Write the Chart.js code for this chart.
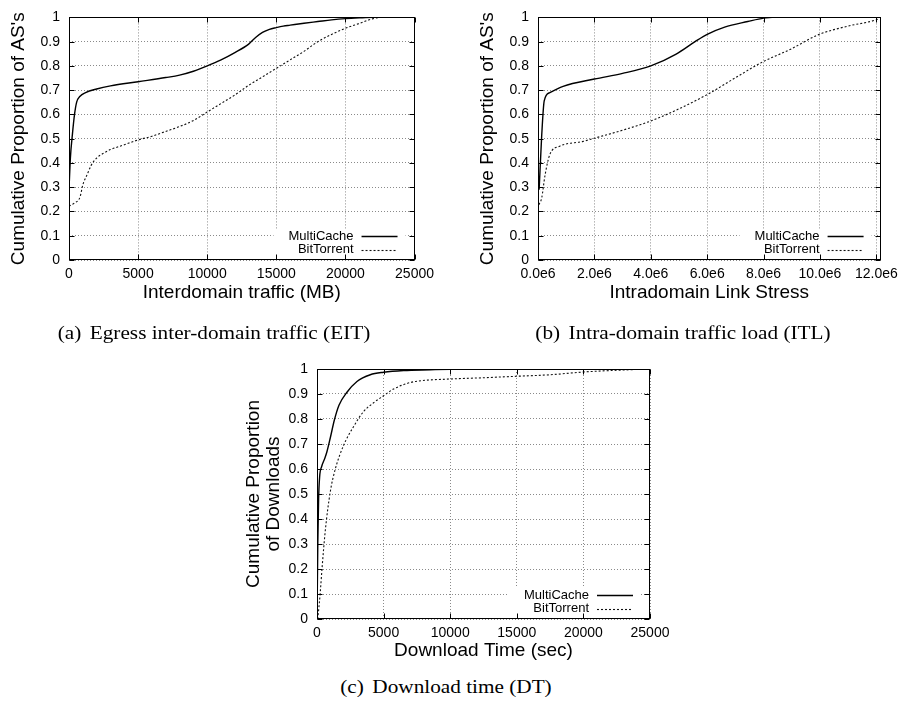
<!DOCTYPE html>
<html>
<head>
<meta charset="utf-8">
<title>MultiCache vs BitTorrent CDFs</title>
<script src="https://cdn.jsdelivr.net/npm/chart.js@4.4.1/dist/chart.umd.min.js"></script>
<style>
  body { margin: 0; background: #fff; width: 904px; height: 702px; position: relative; overflow: hidden; }
  canvas { position: absolute; }
  .cap {
    position: absolute; width: 400px; text-align: center; white-space: nowrap;
    font-family: "Liberation Serif", "DejaVu Serif", serif; font-size: 18px; line-height: 22px;
    color: #000; transform: scaleX(1.18);
  }
  .cap .lbl { margin-right: 0.4em; }
</style>
</head>
<body>
<canvas id="eit" width="440" height="305" style="left:0;top:0"></canvas>
<canvas id="itl" width="435" height="305" style="left:469px;top:0"></canvas>
<canvas id="dt" width="450" height="322" style="left:226px;top:340px"></canvas>
<div class="cap" style="left:14px;top:322px"><span class="lbl">(a)</span>Egress inter-domain traffic (EIT)</div>
<div class="cap" style="left:483px;top:322px"><span class="lbl">(b)</span>Intra-domain traffic load (ITL)</div>
<div class="cap" style="left:246px;top:676px"><span class="lbl">(c)</span>Download time (DT)</div>
<script>
// CDF of egress inter-domain traffic per AS (MB)
const eitMultiX = [0, 100, 250, 400, 550, 800, 1200, 2000, 3000, 5000, 7000, 8000, 9000, 10000, 11000, 12000, 13000, 13500, 14000, 14500, 15000, 15500, 16000, 17000, 18000, 19000, 20000, 21000, 22000, 23000];
const eitMultiY = [0.29, 0.42, 0.52, 0.6, 0.65, 0.675, 0.69, 0.705, 0.718, 0.735, 0.752, 0.762, 0.778, 0.8, 0.825, 0.855, 0.89, 0.917, 0.938, 0.951, 0.958, 0.964, 0.968, 0.976, 0.983, 0.99, 0.995, 0.998, 1, 1];
const eitBitX = [0, 400, 800, 1000, 1300, 1600, 2000, 2500, 3000, 4000, 5000, 6000, 7000, 8000, 9000, 10000, 11000, 12000, 13000, 14000, 15000, 16000, 17000, 18000, 19000, 20000, 21000, 22000, 22500];
const eitBitY = [0.222, 0.235, 0.26, 0.31, 0.35, 0.39, 0.42, 0.44, 0.455, 0.475, 0.495, 0.51, 0.53, 0.55, 0.575, 0.61, 0.645, 0.68, 0.72, 0.755, 0.79, 0.825, 0.86, 0.9, 0.93, 0.955, 0.975, 0.995, 1];

// CDF of intra-domain link stress per AS
const itlMultiX = [0.04e6, 0.13e6, 0.22e6, 0.42e6, 0.89e6, 2e6, 3e6, 4e6, 4.9e6, 5.57e6, 6e6, 6.62e6, 7.44e6, 8e6, 8.3e6];
const itlMultiY = [0.29, 0.51, 0.656, 0.69, 0.716, 0.746, 0.769, 0.8, 0.849, 0.9, 0.93, 0.96, 0.983, 0.997, 1];
const itlBitX = [0.03e6, 0.13e6, 0.25e6, 0.42e6, 0.77e6, 1.6e6, 2e6, 3e6, 4e6, 4.98e6, 6e6, 6.97e6, 7.96e6, 8.96e6, 9.95e6, 10.95e6, 12e6, 12.1e6];
const itlBitY = [0.228, 0.255, 0.35, 0.435, 0.469, 0.489, 0.502, 0.535, 0.573, 0.622, 0.682, 0.749, 0.816, 0.869, 0.929, 0.963, 0.99, 0.995];

// CDF of download time (sec)
const dtMultiX = [0, 60, 120, 200, 350, 600, 750, 1000, 1300, 1650, 2250, 3000, 4000, 5000, 6500, 8500, 10000, 12000];
const dtMultiY = [0, 0.3, 0.48, 0.57, 0.61, 0.645, 0.67, 0.725, 0.795, 0.855, 0.907, 0.95, 0.977, 0.987, 0.994, 0.997, 0.999, 1];
const dtBitX = [50, 150, 250, 375, 625, 1000, 1375, 2000, 2750, 3500, 4250, 5000, 5750, 6750, 7500, 10000, 12500, 15000, 17500, 20000, 22500, 25000];
const dtBitY = [0, 0.05, 0.11, 0.2, 0.355, 0.51, 0.6, 0.695, 0.77, 0.83, 0.865, 0.893, 0.92, 0.942, 0.951, 0.96, 0.965, 0.971, 0.977, 0.988, 0.995, 1];

// tick positions
const cdfTicks = [0, 0.1, 0.2, 0.3, 0.4, 0.5, 0.6, 0.7, 0.8, 0.9, 1];
const mbTicks = [0, 5000, 10000, 15000, 20000, 25000];
const stressTicks = [0, 2e6, 4e6, 6e6, 8e6, 10e6, 12e6];
const secTicks = [0, 5000, 10000, 15000, 20000, 25000];

Chart.defaults.font.family = '"Liberation Sans", Arial, sans-serif';
Chart.defaults.color = '#000';

// gnuplot-like key in the lower right, box border and inward tick marks
const gnuplotFrame = {
  id: 'gnuplotFrame',
  afterDatasetsDraw(chart) {
    const { ctx, chartArea: a, scales } = chart;
    ctx.save();
    ctx.fillStyle = '#fff';
    ctx.fillRect(a.right - 141, a.bottom - 31, 132, 31);
    ctx.font = '13px "Liberation Sans", Arial, sans-serif';
    ctx.textAlign = 'right';
    ctx.textBaseline = 'middle';
    chart.data.datasets.forEach((ds, i) => {
      const yy = a.bottom - 24 + i * 13.5;
      ctx.fillStyle = '#000';
      ctx.fillText(ds.label, a.right - 61, yy);
      ctx.beginPath();
      ctx.setLineDash(ds.borderDash || []);
      ctx.lineWidth = ds.borderWidth;
      ctx.strokeStyle = ds.borderColor;
      ctx.moveTo(a.right - 53, Math.round(yy) + 0.5);
      ctx.lineTo(a.right - 17, Math.round(yy) + 0.5);
      ctx.stroke();
    });
    ctx.setLineDash([]);
    ctx.strokeStyle = '#000';
    ctx.lineWidth = 1;
    const L = Math.round(a.left) + 0.5, R = Math.round(a.right) - 0.5;
    const T = Math.round(a.top) + 0.5, B = Math.round(a.bottom) - 0.5;
    ctx.strokeRect(L, T, R - L, B - T);
    ctx.beginPath();
    scales.x.ticks.forEach(t => {
      const px = Math.round(scales.x.getPixelForValue(t.value)) + 0.5;
      ctx.moveTo(px, B); ctx.lineTo(px, B - 5);
      ctx.moveTo(px, T); ctx.lineTo(px, T + 5);
    });
    scales.y.ticks.forEach(t => {
      const py = Math.round(scales.y.getPixelForValue(t.value)) + 0.5;
      ctx.moveTo(L, py); ctx.lineTo(L + 5, py);
      ctx.moveTo(R, py); ctx.lineTo(R - 5, py);
    });
    ctx.stroke();
    ctx.restore();
  }
};

function points(xs, ys) {
  return xs.map((x, i) => ({ x: x, y: ys[i] }));
}

function cdfChart(id, multi, bit, o) {
  const grid = { color: '#8a8a8a', lineWidth: 1, drawTicks: false };
  return new Chart(document.getElementById(id), {
    type: 'line',
    data: {
      datasets: [
        { label: 'MultiCache', data: multi, borderColor: '#000', borderWidth: 1.4,
          pointRadius: 0, cubicInterpolationMode: 'monotone', fill: false },
        { label: 'BitTorrent', data: bit, borderColor: '#111', borderWidth: 1.1, borderDash: [2, 2],
          pointRadius: 0, cubicInterpolationMode: 'monotone', fill: false }
      ]
    },
    options: {
      responsive: false,
      animation: false,
      devicePixelRatio: 1,
      layout: { padding: o.padding },
      plugins: { legend: { display: false }, tooltip: { enabled: false } },
      scales: {
        x: {
          type: 'linear', min: 0, max: o.xMax,
          afterFit: s => { s.height = o.xAxisHeight; },
          afterBuildTicks: s => { s.ticks = o.xTicks.map(v => ({ value: v })); },
          ticks: { callback: o.xLabel, padding: 6, maxRotation: 0, autoSkip: false, font: { size: 14 } },
          grid: grid,
          border: { display: false, dash: [1, 2] },
          title: { display: true, text: o.xTitle, font: { size: 19 }, padding: { top: 0, bottom: o.xTitlePad } }
        },
        y: {
          type: 'linear', min: 0, max: 1,
          afterFit: s => { s.width = o.yAxisWidth; },
          afterBuildTicks: s => { s.ticks = cdfTicks.map(v => ({ value: v })); },
          ticks: { callback: v => (v === 0 || v === 1) ? String(v) : v.toFixed(1), padding: 9, font: { size: 14 } },
          grid: grid,
          border: { display: false, dash: [1, 2] },
          title: { display: true, text: o.yTitle, font: { size: 19, lineHeight: 1.05 }, padding: o.yTitlePad }
        }
      }
    },
    plugins: [gnuplotFrame]
  });
}

cdfChart('eit', points(eitMultiX, eitMultiY), points(eitBitX, eitBitY), {
  padding: { top: 11, right: 24, left: 0, bottom: 0 },
  xMax: 25000, xTicks: mbTicks, xLabel: v => String(v),
  xAxisHeight: 45, yAxisWidth: 69, xTitlePad: 1, yTitlePad: 9,
  xTitle: 'Interdomain traffic (MB)', yTitle: "Cumulative Proportion of AS's"
});

cdfChart('itl', points(itlMultiX, itlMultiY), points(itlBitX, itlBitY), {
  padding: { top: 11, right: 19, left: 0, bottom: 0 },
  xMax: 12.15e6, xTicks: stressTicks, xLabel: v => (v / 1e6).toFixed(1) + 'e6',
  xAxisHeight: 45, yAxisWidth: 69, xTitlePad: 1, yTitlePad: 9,
  xTitle: 'Intradomain Link Stress', yTitle: "Cumulative Proportion of AS's"
});

cdfChart('dt', points(dtMultiX, dtMultiY), points(dtBitX, dtBitY), {
  padding: { top: 29, right: 26, left: 0, bottom: 0 },
  xMax: 25000, xTicks: secTicks, xLabel: v => String(v),
  xAxisHeight: 43, yAxisWidth: 91, xTitlePad: 0, yTitlePad: 17.5,
  xTitle: 'Download Time (sec)', yTitle: ['Cumulative Proportion', 'of Downloads']
});
</script>
</body>
</html>
